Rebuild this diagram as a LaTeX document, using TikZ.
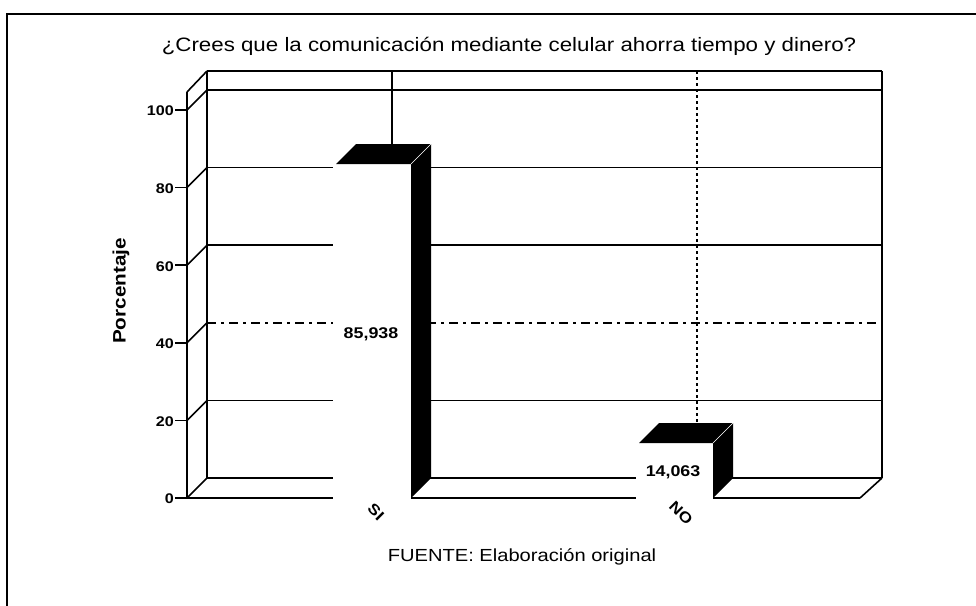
\documentclass[tikz,border=0pt]{standalone}
\usepackage{fontspec}
\setmainfont{Liberation Sans}[FakeStretch=1.15]
\usepackage{tikz}

\tikzset{
  wall/.style={line width=1.6pt},
  grid40/.style={line width=1.4pt, dash pattern=on 9pt off 5pt on 3pt off 5pt},
  tick/.style={font=\bfseries\fontsize{14}{16}\selectfont, anchor=east, inner sep=1pt},
  value/.style={font=\bfseries\fontsize{15.5}{17}\selectfont, inner sep=1pt},
  cat/.style={font=\bfseries\fontsize{15}{17}\selectfont, rotate=-45, inner sep=0pt}
}

\begin{document}
\begin{tikzpicture}[x=1pt,y=-1pt]
\useasboundingbox (0,0) rectangle (976,605);
% outer frame
\draw[line width=2pt] (7,640) -- (7,14) -- (1000,14);

% title
\node[anchor=base, font=\fontsize{19.4}{22}\selectfont] (title) at (509,51) {¿Crees que la comunicación mediante celular ahorra tiempo y dinero?};

% back wall
\draw[wall] (207,71) -- (882,71);
\draw[wall] (207,90) -- (882,90);
\draw[wall] (207,167.6) -- (882,167.6);
\draw[wall] (207,245.2) -- (882,245.2);
\draw[grid40] (207,322.8) -- (882,322.8);
\draw[wall] (207,400.4) -- (882,400.4);
\draw[wall] (207,478) -- (882,478);
\draw[wall] (207,71) -- (207,478);
\draw[wall] (882,71) -- (882,478);
\draw[line width=1.4pt] (392,71) -- (392,478);
\draw[line width=1.4pt, dashed] (697,71) -- (697,478);

% side wall and ticks
\draw[wall] (187,92) -- (187,498);
\draw[wall] (187,92) -- (207,71);
\draw[wall] (187,110) -- (207,90);
\draw[wall] (187,187.6) -- (207,167.6);
\draw[wall] (187,265.2) -- (207,245.2);
\draw[wall] (187,342.8) -- (207,322.8);
\draw[wall] (187,420.4) -- (207,400.4);
\draw[wall] (187,498) -- (207,478);
\draw[wall] (175,110) -- (187,110);
\draw[wall] (175,187.6) -- (187,187.6);
\draw[wall] (175,265.2) -- (187,265.2);
\draw[wall] (175,342.8) -- (187,342.8);
\draw[wall] (175,420.4) -- (187,420.4);
\draw[wall] (175,498) -- (187,498);
\node[tick] (t100) at (175,111) {100};
\node[tick] (t80) at (175,188.6) {80};
\node[tick] (t60) at (175,266.2) {60};
\node[tick] (t40) at (175,343.8) {40};
\node[tick] (t20) at (175,421.4) {20};
\node[tick] (t0) at (175,499) {0};

% floor
\draw[wall] (187,498) -- (860,498);
\draw[wall] (860,498) -- (882,478);

% bar SI
\fill[white] (333,164) rectangle (411,501);
\fill[black] (336,164) -- (411,164) -- (431,144) -- (356,144) -- cycle;
\fill[black] (411,164) -- (431,144) -- (431,478) -- (411,498) -- cycle;
\draw[white, line width=0.6pt] (411,164) -- (431,144);

% bar NO
\fill[white] (636,443) rectangle (713,501);
\fill[black] (639,443) -- (713,443) -- (733,423) -- (659,423) -- cycle;
\fill[black] (713,443) -- (733,423) -- (733,478) -- (713,498) -- cycle;
\draw[white, line width=0.6pt] (713,443) -- (733,423);

% labels
\node[value] (vsi) at (371,334) {85,938};
\node[value] (vno) at (673,472) {14,063};
\node[cat] (csi) at (376,512) {SI};
\node[cat] (cno) at (681,513) {NO};
\node[rotate=90, font=\bfseries\fontsize{18}{20}\selectfont] (ylab) at (121,291) {Porcentaje};
\node[anchor=base, font=\fontsize{17.5}{20}\selectfont] (fuente) at (522,561) {FUENTE: Elaboración original};
\end{tikzpicture}
\end{document}
